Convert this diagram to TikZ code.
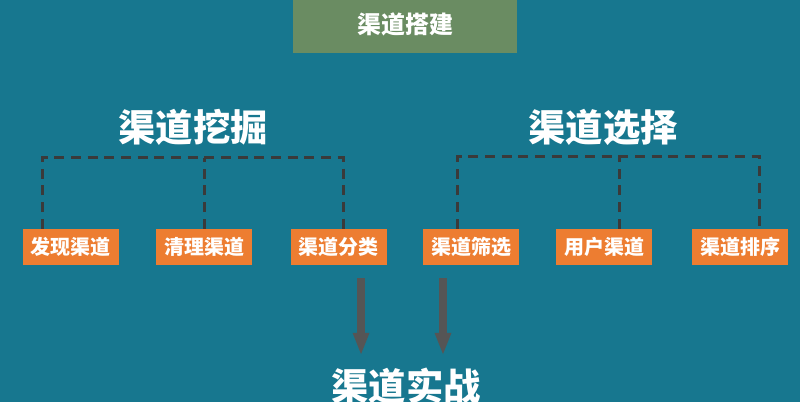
\documentclass[tikz,border=0pt]{standalone}
\usepackage{fontspec}
\newfontfamily\cjk{Noto Sans CJK SC}
\usetikzlibrary{arrows.meta, positioning}
\definecolor{bgteal}{RGB}{23,119,143}
\definecolor{titlegreen}{RGB}{106,140,98}
\definecolor{boxorange}{RGB}{237,125,49}
\definecolor{dashgray}{RGB}{58,58,58}
\definecolor{arrowgray}{RGB}{85,85,85}

\begin{document}
\begin{tikzpicture}[x=0.75pt, y=-0.75pt,
    every node/.style={text=white, inner sep=0pt},
    titlebox/.style={fill=titlegreen, minimum width=168pt, minimum height=44pt, font=\cjk\bfseries\fontsize{18}{18}\selectfont},
    heading/.style={font=\cjk\bfseries\fontsize{28}{28}\selectfont},
    leafbox/.style={fill=boxorange, minimum width=72pt, minimum height=27pt, font=\cjk\bfseries\fontsize{15}{15}\selectfont},
    dashline/.style={draw=dashgray, line width=2.25pt, dash pattern=on 7.5pt off 5pt},
    bigarrow/.style={draw=arrowgray, line width=6pt, -{Triangle[width=11.25pt, length=17pt]}}]
    % background
    \useasboundingbox (0,0) rectangle (800,402);
    \fill[bgteal] (0,0) rectangle (800,402);
    % title
    \node[titlebox] (build) at (405,24) {渠道搭建};
    % two groups
    \node[heading] (dig) at (193,127) {渠道挖掘};
    \node[heading] (choose) at (603,127) {渠道选择};
    \node[leafbox] (find) at (71,247) {发现渠道};
    \node[leafbox] (clean) at (204,247) {清理渠道};
    \node[leafbox] (sort) at (338.5,247) {渠道分类};
    \node[leafbox] (filter) at (471,247) {渠道筛选};
    \node[leafbox] (user) at (604,247) {用户渠道};
    \node[leafbox] (rank) at (740,247) {渠道排序};
    % dashed brackets
    \draw[dashline] ([xshift=-21.75pt]find.north) -- ++(0,-71) -| ([xshift=3.75pt]sort.north);
    \draw[dashline] (clean.north) -- ++(0,-71);
    \draw[dashline] ([xshift=-10.5pt]filter.north) -- ++(0,-72) -| ([xshift=14.25pt]rank.north);
    \draw[dashline] ([xshift=11.25pt]user.north) -- ++(0,-72);
    % result
    \node[heading] (fight) at (406,386) {渠道实战};
    \coordinate (a1) at ([xshift=16.9pt, yshift=-9.75pt]sort.south);
    \coordinate (a2) at ([xshift=-21pt, yshift=-9.75pt]filter.south);
    \coordinate (t1) at ([yshift=9pt]fight.north);
    \draw[bigarrow] (a1) -- (a1 |- t1);
    \draw[bigarrow] (a2) -- (a2 |- t1);
\end{tikzpicture}
\end{document}
